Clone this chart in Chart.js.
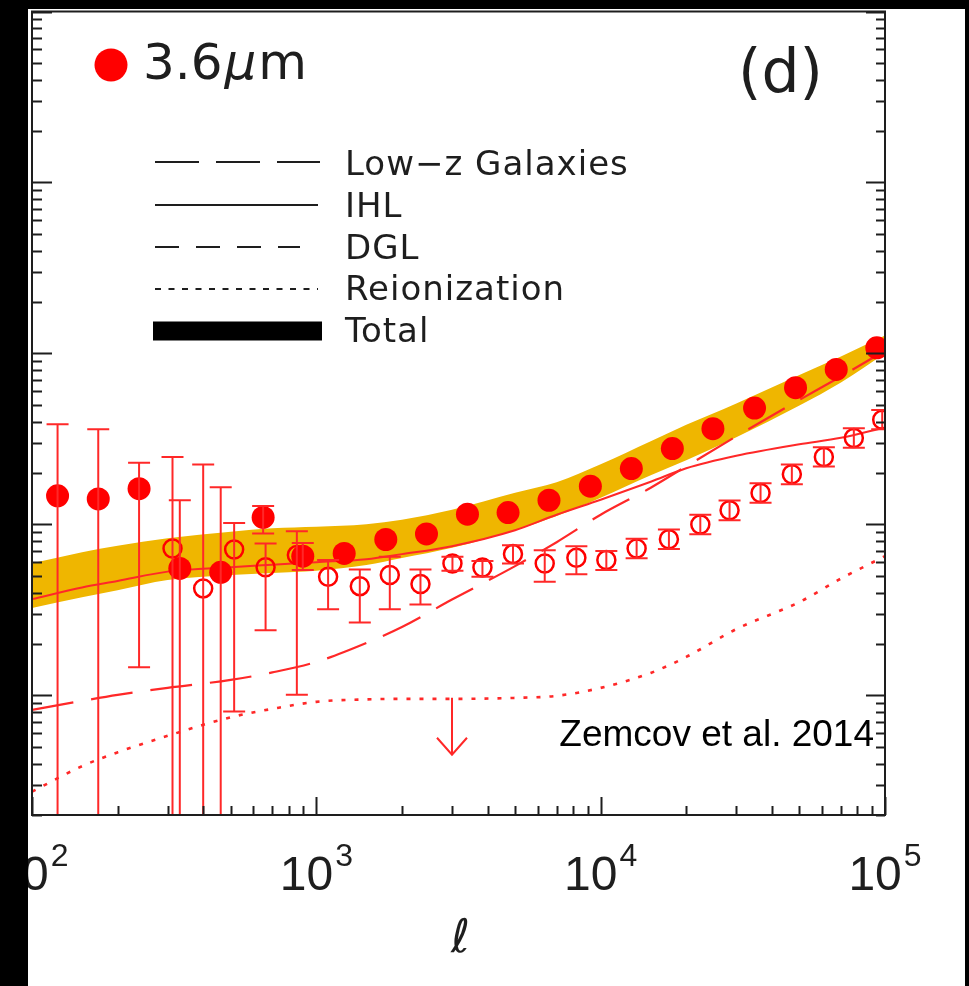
<!DOCTYPE html>
<html>
<head>
<meta charset="utf-8">
<script src="https://cdn.jsdelivr.net/npm/chart.js@4.4.1/dist/chart.umd.min.js"></script>
<style>
	html, body { margin: 0; padding: 0; background: #fff; }
	canvas { display: block; }
</style>
</head>
<body>
<canvas id="chart" width="969" height="986"></canvas>
<script>
// model curves, sampled in multipole
const ellModel = [100, 150, 200, 300, 500, 700, 1000, 1500, 2000, 3000, 5000, 7000, 10000, 15000, 20000, 30000, 50000, 70000, 100000];
const totalUpper = [0.0594, 0.0689, 0.0752, 0.0832, 0.0908, 0.0952, 0.0971, 0.1004, 0.1067, 0.1220, 0.1533, 0.1766, 0.2249, 0.3064, 0.3825, 0.5108, 0.7491, 0.9605, 1.274];
const totalLower = [0.0325, 0.0376, 0.0413, 0.0473, 0.0506, 0.0520, 0.0537, 0.0579, 0.0636, 0.0730, 0.0926, 0.1121, 0.1433, 0.1940, 0.2373, 0.3232, 0.4970, 0.6773, 1.000];
const ihl = [0.0366, 0.0428, 0.0467, 0.0530, 0.0563, 0.0582, 0.0602, 0.0627, 0.0671, 0.0747, 0.0926, 0.1141, 0.1396, 0.1778, 0.2131, 0.2521, 0.2943, 0.3211, 0.3698];
const lowZGalaxies = [0.00824, 0.00930, 0.01008, 0.01108, 0.01233, 0.01364, 0.01571, 0.02028, 0.02514, 0.03639, 0.05709, 0.0788, 0.1141, 0.1640, 0.2189, 0.3277, 0.5354, 0.7342, 1.041];
const dgl = [];
const reionization = [0.00274, 0.00386, 0.00465, 0.00581, 0.00746, 0.00835, 0.00918, 0.00949, 0.00955, 0.00955, 0.00968, 0.00995, 0.01108, 0.01355, 0.0168, 0.02447, 0.03519, 0.04827, 0.0653];

// 3.6um fluctuations (filled)
const ellFilled = [123, 171, 238, 331, 461, 650, 896, 1253, 1755, 2440, 3400, 4724, 6580, 9200, 12820, 17870, 24820, 34770, 48460, 67370, 93580];
const fluctFilled = [0.147, 0.141, 0.162, 0.0553, 0.0525, 0.110, 0.0653, 0.0677, 0.0817, 0.0881, 0.1148, 0.1175, 0.1386, 0.1674, 0.2123, 0.2778, 0.3631, 0.4795, 0.6306, 0.807, 1.079];
const fluctFilledHi = [0.385, 0.360, 0.230, 0.1386, 0.165, 0.1284, 0.078, null, null, null, null, null, null, null, null, null, null, null, null, null, null];
const fluctFilledLo = [0.0005, 0.0005, 0.01463, 0.0005, 0.0005, 0.0886, 0.0541, null, null, null, null, null, null, null, null, null, null, null, null, null, null];

// 3.6um fluctuations (open)
const ellOpen = [312, 400, 514, 663, 854, 1100, 1422, 1813, 2324, 3011, 3839, 4916, 6357, 8214, 10470, 13380, 17380, 22410, 28400, 36500, 47030, 60950, 77700, 97770];
const fluctOpen = [0.0724, 0.0423, 0.0715, 0.0563, 0.0662, 0.0494, 0.0436, 0.0506, 0.0448, 0.0592, 0.0561, 0.0671, 0.0592, 0.0638, 0.0619, 0.0724, 0.0820, 0.1000, 0.1212, 0.1529, 0.1966, 0.2481, 0.3203, 0.410];
const fluctOpenHi = [0.248, 0.224, 0.102, 0.0775, 0.0914, 0.0619, 0.0546, 0.0647, 0.0546, 0.0647, 0.0611, 0.0757, 0.0708, 0.0747, 0.0699, 0.0826, 0.0935, 0.114, 0.138, 0.174, 0.224, 0.283, 0.365, 0.467];
const fluctOpenLo = [0.0005, 0.0005, 0.00805, 0.0241, 0.0101, 0.0319, 0.0267, 0.0319, 0.0341, 0.0536, 0.0494, 0.0592, 0.0462, 0.0511, 0.0541, 0.0635, 0.0719, 0.0877, 0.106, 0.134, 0.172, 0.218, 0.281, 0.360];

// upper limit
const ellLimit = [3000];
const fluctLimit = [0.0097];

const xTicks = [100, 1000, 10000, 100000];
const xTickExp = ['2', '3', '4', '5'];

const red = '#ff0000';
const lineRed = 'rgb(255, 40, 40)';
const ink = '#1e1e1e';

const xy = (xs, ys) => xs.map((x, i) => ({ x, y: ys[i] }));

const logTicks = (min, max) => {
	const out = [];
	for (let e = Math.floor(Math.log10(min)); e <= Math.ceil(Math.log10(max)); e++) {
		for (let m = 1; m <= 9; m++) {
			const v = m * Math.pow(10, e);
			if (v >= min * 0.999 && v <= max * 1.001) out.push({ v, major: m === 1 });
		}
	}
	return out;
};

const legendRows = [
	{ label: 'Low\u2212z Galaxies', y: 162, dash: [44, 17], end: 320, base: 175 },
	{ label: 'IHL', y: 205, dash: [], end: 318, base: 217 },
	{ label: 'DGL', y: 247, dash: [24, 17], end: 300, base: 259 },
	{ label: 'Reionization', y: 289, dash: [6, 7.5], end: 318, base: 300 },
	{ label: 'Total', y: 331, box: true, base: 342 }
];

const errorBars = {
	id: 'errorBars',
	afterDatasetsDraw(chart) {
		const { ctx, chartArea: a, scales: { x, y } } = chart;
		ctx.save();
		ctx.beginPath();
		ctx.rect(a.left, a.top, a.right - a.left, a.bottom - a.top);
		ctx.clip();
		ctx.strokeStyle = lineRed;
		ctx.lineWidth = 2;
		const bars = (ls, hi, lo) => {
			ls.forEach((l, i) => {
				if (hi[i] == null) return;
				const px = x.getPixelForValue(l);
				const top = y.getPixelForValue(hi[i]);
				const bot = Math.min(y.getPixelForValue(lo[i]), a.bottom + 5);
				ctx.beginPath();
				ctx.moveTo(px, top);
				ctx.lineTo(px, bot);
				ctx.moveTo(px - 11, top);
				ctx.lineTo(px + 11, top);
				if (bot < a.bottom) {
					ctx.moveTo(px - 11, bot);
					ctx.lineTo(px + 11, bot);
				}
				ctx.stroke();
			});
		};
		bars(ellFilled, fluctFilledHi, fluctFilledLo);
		bars(ellOpen, fluctOpenHi, fluctOpenLo);

		ellLimit.forEach((l, i) => {
			const px = x.getPixelForValue(l);
			const py = y.getPixelForValue(fluctLimit[i]);
			ctx.beginPath();
			ctx.moveTo(px, py);
			ctx.lineTo(px, py + 57);
			ctx.moveTo(px - 15, py + 40);
			ctx.lineTo(px, py + 57);
			ctx.lineTo(px + 15, py + 40);
			ctx.stroke();
		});
		ctx.restore();
	}
};

const decor = {
	id: 'decor',
	beforeDraw(chart) {
		const { ctx, width, height } = chart;
		ctx.save();
		ctx.fillStyle = '#fff';
		ctx.fillRect(0, 0, width, height);
		ctx.restore();
	},
	afterDraw(chart) {
		const { ctx, chartArea: a, scales: { x, y }, width, height } = chart;
		ctx.save();

		// axis ticks
		ctx.strokeStyle = ink;
		ctx.lineWidth = 2;
		ctx.beginPath();
		logTicks(y.min, y.max).forEach(t => {
			const py = Math.round(y.getPixelForValue(t.v)) + 0.5;
			const len = t.major ? 20 : 10;
			ctx.moveTo(a.left, py);
			ctx.lineTo(a.left + len, py);
			ctx.moveTo(a.right, py);
			ctx.lineTo(a.right - len + 1, py);
		});
		logTicks(x.min, x.max).forEach(t => {
			const px = Math.round(x.getPixelForValue(t.v)) + 0.5;
			ctx.moveTo(px, a.bottom);
			ctx.lineTo(px, a.bottom - (t.major ? 18 : 9));
		});
		ctx.stroke();
		ctx.strokeRect(a.left, a.top, a.right - a.left, a.bottom - a.top);

		// x tick labels with exponents
		ctx.fillStyle = ink;
		ctx.textBaseline = 'alphabetic';
		ctx.textAlign = 'left';
		xTicks.forEach((v, i) => {
			const px = x.getPixelForValue(v);
			ctx.font = '48px "Liberation Sans"';
			const w1 = ctx.measureText('10').width;
			ctx.font = '32px "Liberation Sans"';
			const w2 = ctx.measureText(xTickExp[i]).width;
			const start = px - (w1 + 2 + w2) / 2;
			ctx.font = '48px "Liberation Sans"';
			ctx.fillText('10', start, 890);
			ctx.font = '32px "Liberation Sans"';
			ctx.fillText(xTickExp[i], start + w1 + 2, 866);
		});

		// x axis title
		ctx.font = 'italic 46px "DejaVu Sans"';
		ctx.textAlign = 'center';
		ctx.fillText('\u2113', (a.left + a.right) / 2 + 2, 952);

		// legend
		ctx.textAlign = 'left';
		ctx.fillStyle = red;
		ctx.beginPath();
		ctx.arc(111, 65, 16.5, 0, Math.PI * 2);
		ctx.fill();
		ctx.fillStyle = ink;
		ctx.font = '50px "DejaVu Sans"';
		ctx.fillText('3.6', 143, 79);
		let cx = 143 + ctx.measureText('3.6').width + 2;
		ctx.font = 'italic 50px "DejaVu Sans"';
		ctx.fillText('\u03bc', cx, 79);
		cx += ctx.measureText('\u03bc').width + 2;
		ctx.font = '50px "DejaVu Sans"';
		ctx.fillText('m', cx, 79);

		ctx.font = '60px "DejaVu Sans"';
		ctx.fillText('(d)', 738, 92);

		ctx.strokeStyle = ink;
		ctx.font = '34px "DejaVu Sans"';
		ctx.letterSpacing = '1px';
		legendRows.forEach(r => {
			if (r.box) {
				ctx.fillStyle = '#000';
				ctx.fillRect(153, r.y - 9.5, 169, 19);
				ctx.fillStyle = ink;
			} else {
				ctx.lineWidth = 2;
				ctx.setLineDash(r.dash);
				ctx.beginPath();
				ctx.moveTo(155, r.y);
				ctx.lineTo(r.end, r.y);
				ctx.stroke();
				ctx.setLineDash([]);
			}
			ctx.fillText(r.label, 345, r.base);
		});
		ctx.letterSpacing = '0px';

		ctx.fillStyle = '#000';
		ctx.font = '37px "Liberation Sans"';
		ctx.textAlign = 'right';
		ctx.fillText('Zemcov et al. 2014', 874, 746);

		// frame strips
		ctx.fillStyle = '#000';
		ctx.fillRect(0, 0, 28, height);
		ctx.fillRect(0, 0, width, 9);
		ctx.fillRect(965, 0, width - 965, height);
		ctx.restore();
	}
};

const lineSet = (label, data, dash, width) => ({
	label,
	data: xy(ellModel, data),
	borderColor: lineRed,
	borderWidth: width,
	borderDash: dash,
	pointRadius: 0,
	cubicInterpolationMode: 'monotone',
	fill: false
});

new Chart(document.getElementById('chart'), {
	type: 'line',
	data: {
		datasets: [
			{
				label: '3.6\u03bcm',
				data: xy(ellFilled, fluctFilled),
				showLine: false,
				pointRadius: 11.5,
				pointBackgroundColor: red,
				pointBorderColor: red,
				pointBorderWidth: 0
			},
			{
				label: '3.6\u03bcm (open)',
				data: xy(ellOpen, fluctOpen),
				showLine: false,
				pointRadius: 9,
				pointBackgroundColor: 'rgba(0,0,0,0)',
				pointBorderColor: red,
				pointBorderWidth: 2.5
			},
			lineSet('IHL', ihl, [], 2),
			lineSet('Low\u2212z Galaxies', lowZGalaxies, [42, 18], 2.2),
			lineSet('DGL', dgl, [24, 17], 2),
			lineSet('Reionization', reionization, [4, 9], 2.6),
			{
				label: 'Total',
				data: xy(ellModel, totalUpper),
				borderWidth: 0,
				pointRadius: 0,
				cubicInterpolationMode: 'monotone',
				fill: false
			},
			{
				label: 'Total lower',
				data: xy(ellModel, totalLower),
				borderWidth: 0,
				pointRadius: 0,
				cubicInterpolationMode: 'monotone',
				backgroundColor: '#efb600',
				fill: '-1'
			}
		]
	},
	options: {
		responsive: false,
		animation: false,
		devicePixelRatio: 1,
		layout: { padding: { left: 32, top: 11, right: 84, bottom: 171 } },
		scales: {
			x: { type: 'logarithmic', min: 100, max: 100000, display: false },
			y: { type: 'logarithmic', min: 0.002, max: 100, display: false }
		},
		plugins: {
			legend: { display: false },
			tooltip: { enabled: false }
		}
	},
	plugins: [decor, errorBars]
});
</script>
</body>
</html>
